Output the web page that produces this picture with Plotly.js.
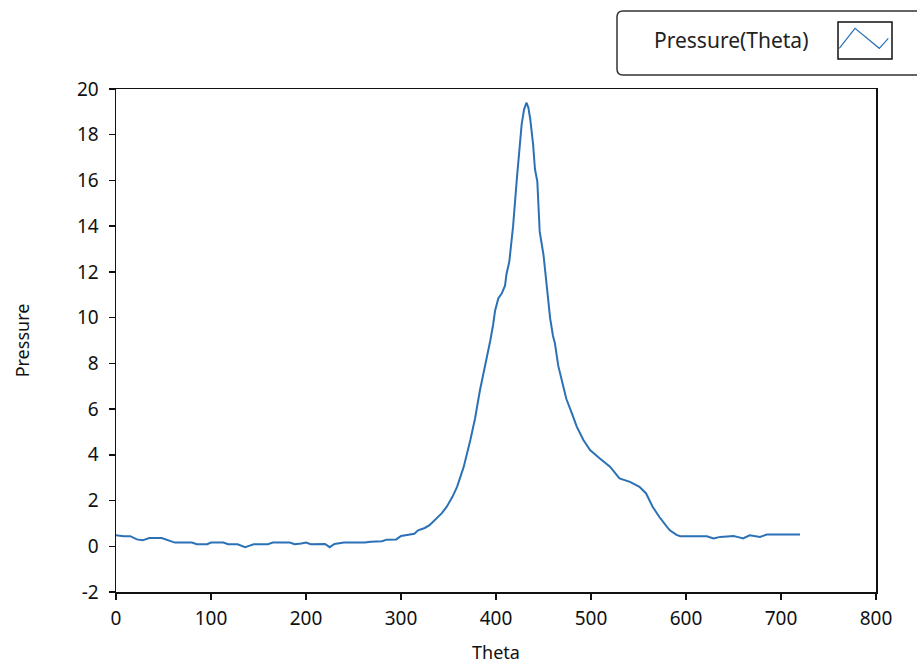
<!DOCTYPE html>
<html>
<head>
<meta charset="utf-8">
<script src="https://cdn.plot.ly/plotly-3.0.1.min.js"></script>
<style>html,body{margin:0;padding:0;background:#fff;}#chart{width:917px;height:664px;}</style>
</head>
<body>
<div id="chart"></div>
<script>
// Data
const theta = [0, 8, 15, 22, 28, 35, 48, 55, 62, 80, 85, 96, 100, 113, 118, 128, 132, 136, 140, 145, 160, 165, 183, 188, 195, 200, 205, 214, 220, 225, 230, 240, 262, 268, 280, 285, 295, 300, 306, 314, 318, 325, 330, 337, 343, 348, 354, 359, 366, 373, 378, 383, 386.6, 390, 394, 397, 399, 402.5, 406, 409.5, 411, 414, 416.5, 418, 422, 425, 427, 429.5, 432, 434, 436, 439, 441, 443.5, 446, 450, 453, 457, 460, 462, 465.5, 469, 474, 480, 485, 492, 499, 509, 520, 530, 541, 551, 558, 565, 572, 580, 583, 590, 594, 622, 626, 629, 636, 650, 655, 660, 667, 678, 685, 720];
const pressure = [0.48, 0.44, 0.44, 0.3, 0.26, 0.36, 0.36, 0.26, 0.16, 0.16, 0.09, 0.09, 0.16, 0.16, 0.09, 0.09, 0.02, -0.04, 0.02, 0.09, 0.09, 0.16, 0.16, 0.09, 0.12, 0.16, 0.09, 0.09, 0.1, -0.04, 0.1, 0.16, 0.16, 0.2, 0.22, 0.29, 0.3, 0.45, 0.5, 0.55, 0.7, 0.8, 0.92, 1.2, 1.45, 1.72, 2.15, 2.6, 3.47, 4.65, 5.6, 6.8, 7.5, 8.3, 9.0, 9.7, 10.3, 10.85, 11.05, 11.4, 11.9, 12.45, 13.4, 14.0, 16.1, 17.7, 18.45, 19.1, 19.4, 19.2, 18.7, 17.6, 16.5, 15.95, 13.76, 12.74, 11.43, 9.97, 9.2, 8.88, 7.9, 7.34, 6.45, 5.8, 5.23, 4.65, 4.21, 3.85, 3.48, 2.97, 2.82, 2.6, 2.31, 1.72, 1.28, 0.85, 0.7, 0.5, 0.44, 0.44, 0.38, 0.34, 0.41, 0.45, 0.4, 0.34, 0.48, 0.41, 0.51, 0.51];
const seriesName = "Pressure(Theta)";
const xTickVals = [0, 100, 200, 300, 400, 500, 600, 700, 800];
const yTickVals = [-2, 0, 2, 4, 6, 8, 10, 12, 14, 16, 18, 20];
const yTickText = ["-2", "0", "2", "4", "6", "8", "10", "12", "14", "16", "18", "20"];

const lineColor = "#2b71b5";
const font = "Noto Sans, Open Sans, sans-serif";

const trace = {
  x: theta, y: pressure, type: "scatter", mode: "lines", name: seriesName,
  line: {color: lineColor, width: 2}
};

// helper: pixel offsets relative to bottom-left corner of plot area
function pxShape(extra) {
  return Object.assign({xref: "paper", yref: "paper", xsizemode: "pixel", ysizemode: "pixel", xanchor: 0, yanchor: 0}, extra);
}

const layout = {
  width: 917, height: 664,
  margin: {l: 116, r: 41, t: 89, b: 72},
  paper_bgcolor: "#fff", plot_bgcolor: "#fff",
  showlegend: false,
  font: {family: font, size: 17, color: "#111"},
  xaxis: {
    range: [0, 800], tickvals: xTickVals, ticks: "outside", ticklen: 6, tickwidth: 1.5, tickcolor: "#111",
    ticklabelstandoff: 3, tickfont: {size: 19},
    showline: true, linecolor: "#111", linewidth: 1.5, mirror: true, showgrid: false, zeroline: false,
    title: {text: "Theta", standoff: 20, font: {size: 18}}
  },
  yaxis: {
    range: [-2, 20], tickvals: yTickVals, ticktext: yTickText, ticks: "outside", ticklen: 6, tickwidth: 1.5, tickcolor: "#111",
    ticklabelstandoff: 6, tickfont: {size: 19},
    showline: true, linecolor: "#111", linewidth: 1.5, mirror: true, showgrid: false, zeroline: false,
    title: {text: "Pressure", standoff: 42, font: {size: 18}}
  },
  shapes: [
    pxShape({type: "path", path: "M 820,581 L 507,581 Q 501,581 501,575 L 501,523 Q 501,517 507,517 L 820,517", line: {color: "#333", width: 1.5}}),
    pxShape({type: "rect", x0: 722, x1: 776, y0: 533, y1: 570, line: {color: "#111", width: 1.5}}),
    pxShape({type: "path", path: "M 723.3,543.7 L 739,563.7 L 763.3,543.7 L 772.3,553.7", line: {color: lineColor, width: 1.2}})
  ],
  annotations: [
    {xref: "paper", yref: "paper", x: (731 - 116) / 760, y: (592 - 40) / 503, text: seriesName, showarrow: false,
     xanchor: "center", yanchor: "middle", font: {size: 21, color: "#222"}}
  ]
};

Plotly.newPlot("chart", [trace], layout, {displayModeBar: false, staticPlot: true});
</script>
</body>
</html>
